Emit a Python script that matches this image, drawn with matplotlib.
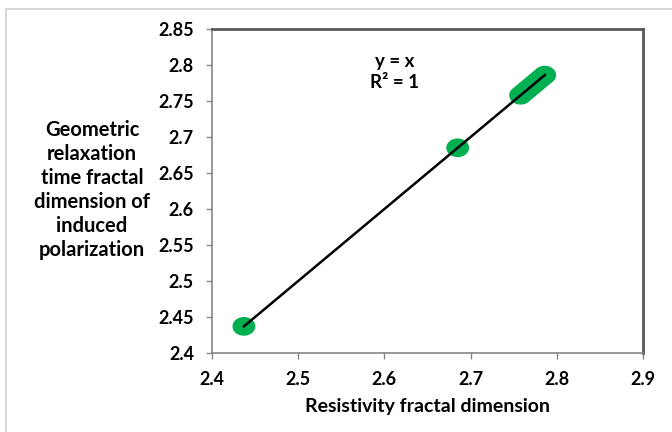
import matplotlib.pyplot as plt
import numpy as np
from matplotlib.patches import Rectangle
from matplotlib.path import Path

# Data
resistivity_fd = [2.437, 2.685, 2.758, 2.762, 2.766, 2.770, 2.774, 2.778, 2.782, 2.786]
relaxation_fd = [2.437, 2.685, 2.758, 2.762, 2.766, 2.770, 2.774, 2.778, 2.782, 2.786]
x_ticks = [2.4, 2.5, 2.6, 2.7, 2.8, 2.9]
y_ticks = [2.4, 2.45, 2.5, 2.55, 2.6, 2.65, 2.7, 2.75, 2.8, 2.85]

plt.rcParams['font.family'] = ['Lato', 'DejaVu Sans']
plt.rcParams['font.weight'] = 'bold'

fig = plt.figure(figsize=(6.72, 4.32), dpi=100)
ax = fig.add_axes([212 / 672, 1 - 353 / 432, (643 - 212) / 672, (353 - 29) / 432])

# light outer frame like the Excel chart area
fig.patches.append(Rectangle((6 / 672, -0.1), 1.2, 1 - 9 / 432 + 0.1, transform=fig.transFigure,
                             fill=False, edgecolor='#d0d0d0', linewidth=1.2))

# slightly squashed circle, as in the original
t = np.linspace(0, 2 * np.pi, 60)
ellipse = Path(np.column_stack([np.cos(t), 0.82 * np.sin(t)]), closed=True)

ax.scatter(resistivity_fd, relaxation_fd, s=270, marker=ellipse, color='#00b050',
           edgecolors='none', zorder=2)

# y = x trend line
xs = np.array([min(resistivity_fd), max(resistivity_fd)])
ax.plot(xs, xs, color='black', linewidth=1.8, zorder=3)

ax.set_xlim(2.4, 2.9)
ax.set_ylim(2.4, 2.85)
ax.set_xticks(x_ticks)
ax.set_yticks(y_ticks)
ax.set_xticklabels([f'{v:g}' for v in x_ticks], fontsize=13, fontweight='bold')
ax.set_yticklabels([f'{v:g}' for v in y_ticks], fontsize=13, fontweight='bold')
ax.tick_params(axis='both', direction='out', length=4, width=1, color='#868686')
ax.tick_params(axis='y', pad=9)
ax.tick_params(axis='x', pad=9)

for side in ['left', 'bottom']:
    ax.spines[side].set_color('#868686')
    ax.spines[side].set_linewidth(1.2)
for side in ['top', 'right']:
    ax.spines[side].set_color('#595959')
    ax.spines[side].set_linewidth(2)

ax.text(183 / 431, 1 - 43 / 324, 'y = x\nR² = 1', transform=ax.transAxes, ha='center', va='center',
        fontsize=13.5, fontweight='bold', linespacing=1.3)

ax.set_xlabel('Resistivity fractal dimension', fontsize=14, fontweight='bold', labelpad=7)
fig.text(92 / 672, 1 - 190 / 432,
         'Geometric\nrelaxation\ntime fractal\ndimension of\ninduced\npolarization',
         ha='center', va='center', fontsize=14.5, fontweight='bold', linespacing=1.24)

plt.savefig('out.png', dpi=100)
